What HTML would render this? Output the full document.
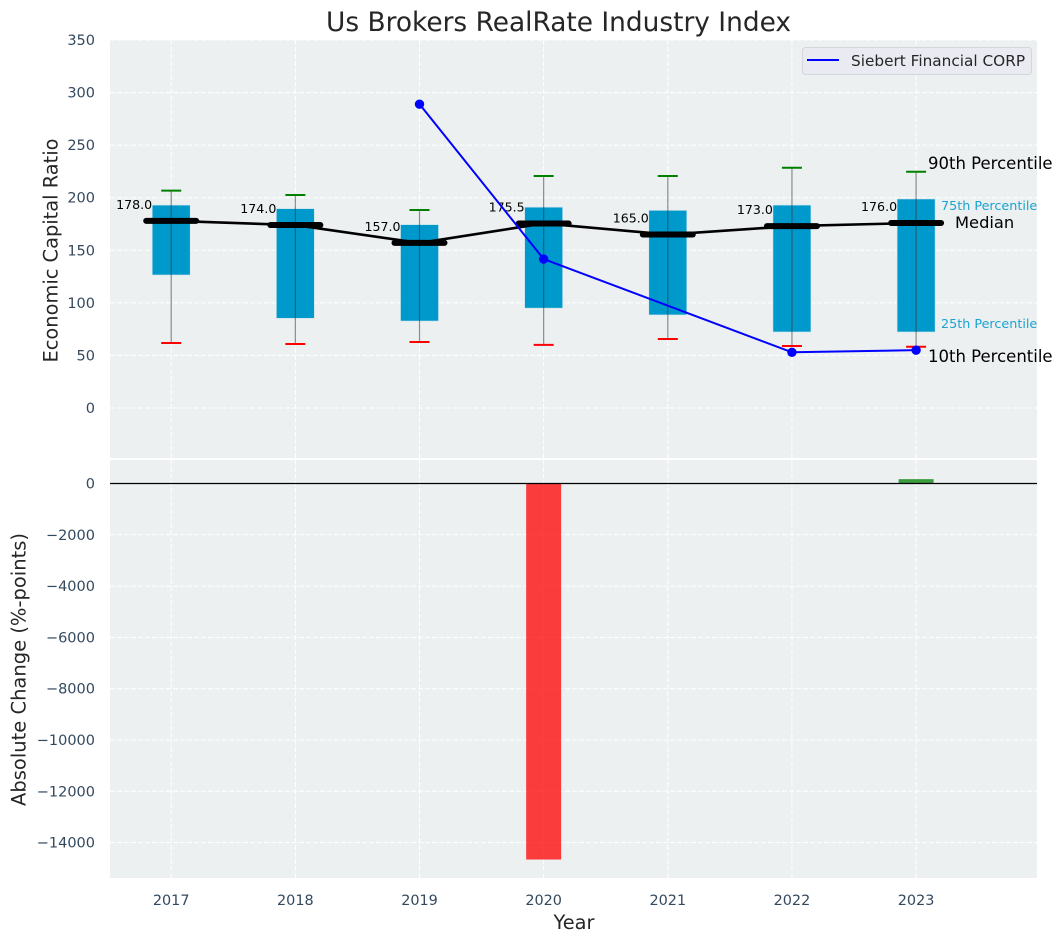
<!DOCTYPE html>
<html>
<head>
<meta charset="utf-8">
<title>Us Brokers RealRate Industry Index</title>
<style>
html,body{margin:0;padding:0;background:#fff;}
svg{display:block;font-family:"DejaVu Sans","Liberation Sans",sans-serif;}
</style>
</head>
<body>
<svg id="chart" width="1063" height="942" viewBox="0 0 1063 942" xmlns="http://www.w3.org/2000/svg">
<rect x="110" y="40" width="927" height="418" fill="#ecf0f1"/>
<rect x="110" y="460" width="927" height="418" fill="#ecf0f1"/>
<g id="grid"></g>
<g id="marks"></g>
<g id="ticks"></g>
<text x="558.5" y="31" text-anchor="middle" font-size="26.4px" fill="#262626">Us Brokers RealRate Industry Index</text>
<text transform="translate(57.5,250.5) rotate(-90)" text-anchor="middle" font-size="19.4px" fill="#262626">Economic Capital Ratio</text>
<text transform="translate(25.5,669.5) rotate(-90)" text-anchor="middle" font-size="19.5px" fill="#262626">Absolute Change (%-points)</text>
<text x="574" y="929" text-anchor="middle" font-size="19.4px" fill="#262626">Year</text>
<text x="928" y="169" font-size="16.5px" fill="#000">90th Percentile</text>
<text x="941" y="210" font-size="12.75px" fill="#1aa3d0">75th Percentile</text>
<text x="955" y="228" font-size="16.3px" fill="#000">Median</text>
<text x="941" y="328" font-size="12.75px" fill="#1aa3d0">25th Percentile</text>
<text x="928" y="362" font-size="16.5px" fill="#000">10th Percentile</text>
<g>
<rect x="802.5" y="47.5" width="229" height="27" rx="3" fill="#eaeaf2" stroke="#d5d5dc"/>
<line x1="807" y1="60" x2="839" y2="60" stroke="#0000ff" stroke-width="2"/>
<text x="851" y="66" font-size="15.3px" fill="#262626">Siebert Financial CORP</text>
</g>
<script>
const years = [2017, 2018, 2019, 2020, 2021, 2022, 2023];
const p10 = [61.8, 60.9, 62.8, 60, 65.6, 59, 58.3];
const p25 = [126.5, 85.3, 82.7, 95, 88.5, 72.3, 72.3];
const medians = [178, 174, 157, 175.5, 165, 173, 176];
const p75 = [193, 189.6, 174.4, 191, 188, 193, 198.8];
const p90 = [206.7, 202.6, 188.3, 220.6, 220.6, 228.5, 224.7];
const siebertYears = [2019, 2020, 2022, 2023];
const siebertValues = [289, 141.7, 53, 55];
const changeYears = [2020, 2023];
const changeValues = [-14660, 170];
const upperTicks = [0, 50, 100, 150, 200, 250, 300, 350];
const lowerTicks = [0, -2000, -4000, -6000, -8000, -10000, -12000, -14000];

const NS = 'http://www.w3.org/2000/svg';
const xPos = v => 171.2 + (v - 2017) * 124.15;
const yUp = v => 408 - v * 1.0514;
const yLow = v => 483.5 - v * 0.02565;

function make(parent, tag, attrs, text) {
  const el = document.createElementNS(NS, tag);
  for (const k in attrs) el.setAttribute(k, attrs[k]);
  if (text !== undefined) el.textContent = text;
  parent.appendChild(el);
  return el;
}

const grid = document.getElementById('grid');
const marks = document.getElementById('marks');
const ticks = document.getElementById('ticks');
const dash = {stroke: '#fff', 'stroke-width': 1, 'stroke-dasharray': '5 2', opacity: 1};

years.forEach(y => {
  const x = xPos(y);
  let el = make(grid, 'line', Object.assign({x1: x, x2: x, y1: 40, y2: 458}, dash));
  
  
  el = make(grid, 'line', Object.assign({x1: x, x2: x, y1: 460, y2: 878}, dash));
  
  
  el = make(ticks, 'text', {x: x, y: 905, 'text-anchor': 'middle', 'font-size': '14.4px', fill: '#34495e'}, String(y));
  
  
});

upperTicks.forEach(t => {
  const y = yUp(t);
  let el = make(grid, 'line', Object.assign({x1: 110, x2: 1037, y1: y, y2: y}, dash));
  
  
  el = make(ticks, 'text', {x: 95, y: y + 5, 'text-anchor': 'end', 'font-size': '14.5px', fill: '#34495e'}, String(t));
  
  
});

lowerTicks.forEach(t => {
  const y = yLow(t);
  let el = make(grid, 'line', Object.assign({x1: 110, x2: 1037, y1: y, y2: y}, dash));
  
  
  el = make(ticks, 'text', {x: 95, y: y + 5, 'text-anchor': 'end', 'font-size': '14.5px', fill: '#34495e'}, String(t).replace('-', '\u2212'));
  
  
});

years.forEach((yr, i) => {
  const x = xPos(yr);
  let el = make(marks, 'rect', {x: x - 19, y: yUp(p75[i]), width: 38, height: yUp(p25[i]) - yUp(p75[i]), fill: '#0099cc', stroke: '#cfe6ee', 'stroke-width': 0.6});
  
  
  el = make(marks, 'line', {x1: x, x2: x, y1: yUp(p90[i]), y2: yUp(p10[i]), stroke: '#333', 'stroke-width': 1.2, opacity: 0.55});
  
  
  el = make(marks, 'line', {x1: x - 10, x2: x + 10, y1: yUp(p90[i]), y2: yUp(p90[i]), stroke: '#008000', 'stroke-width': 2});
  
  
  el = make(marks, 'line', {x1: x - 10, x2: x + 10, y1: yUp(p10[i]), y2: yUp(p10[i]), stroke: '#ff0000', 'stroke-width': 2});
  
  
});

let medianLine = make(marks, 'polyline', {points: years.map((yr, i) => xPos(yr) + ',' + yUp(medians[i])).join(' '), fill: 'none', stroke: '#000', 'stroke-width': 2.6});



years.forEach((yr, i) => {
  const x = xPos(yr);
  const y = yUp(medians[i]);
  let el = make(marks, 'line', {x1: x - 25, x2: x + 25, y1: y, y2: y, stroke: '#000', 'stroke-width': 6, 'stroke-linecap': 'round'});
  
  
  el = make(marks, 'text', {x: x - 19, y: y - 12, 'text-anchor': 'end', 'font-size': '12.6px', fill: '#000'}, medians[i].toFixed(1));
  
  
});

let siebertLine = make(marks, 'polyline', {points: siebertYears.map((yr, i) => xPos(yr) + ',' + yUp(siebertValues[i])).join(' '), fill: 'none', stroke: '#0000ff', 'stroke-width': 2});



siebertYears.forEach((yr, i) => {
  const el = make(marks, 'circle', {cx: xPos(yr), cy: yUp(siebertValues[i]), r: 4.7, fill: '#0000ff'});
  
  
});

changeYears.forEach((yr, i) => {
  const v = changeValues[i];
  const top = Math.min(yLow(v), yLow(0));
  const h = Math.abs(yLow(v) - yLow(0));
  const el = make(marks, 'rect', {x: xPos(yr) - 17.5, y: top, width: 35, height: h, fill: v < 0 ? '#ff0000' : '#008000', opacity: 0.75});
  
  
});

let zeroLine = make(marks, 'line', {x1: 110, x2: 1037, y1: yLow(0), y2: yLow(0), stroke: '#000', 'stroke-width': 1.2});


</script>
</svg>
</body>
</html>
